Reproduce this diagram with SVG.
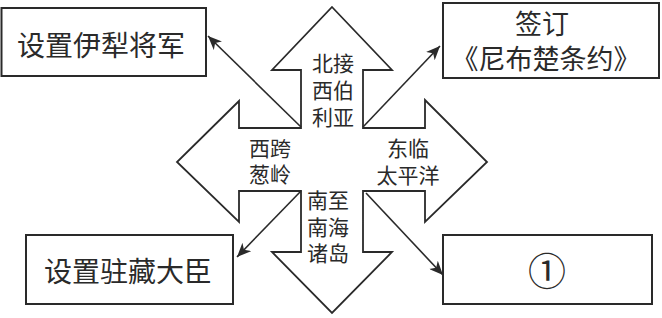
<svg xmlns="http://www.w3.org/2000/svg" width="662" height="318" viewBox="0 0 662 318">
<style>
.box{fill:#fff;stroke:#2a2a2a;stroke-width:2}
.cross{fill:#fff;stroke:#2a2a2a;stroke-width:1.8;stroke-linejoin:miter}
.t{font-family:"Liberation Sans","Noto Sans CJK SC","Noto Sans CJK JP",sans-serif;fill:#2a2a2a;text-anchor:middle}
.big{font-size:28px}
.small{font-size:21px}
.conn{stroke:#2a2a2a;stroke-width:1.6;fill:none;marker-end:url(#ah)}
</style>
<defs>
<marker id="ah" markerUnits="userSpaceOnUse" markerWidth="16" markerHeight="12" refX="14" refY="6" orient="auto">
<path d="M0,0 L14,6 L0,12 L4,6 z" fill="#2a2a2a"/>
</marker>
</defs>
<rect width="662" height="318" fill="#fff"/>
<g id="cross">
<polygon class="cross" points="332,7 392,70 363,70 363,128 425,128 425,100 487,162 425,222 425,191 363,191 363,252 392,252 332,313 272,252 301,252 301,191 239,191 239,222 177,162 239,101 239,128 301,128 301,70 272,70"/>
<text class="t small"><tspan x="333" y="71">北接</tspan><tspan x="333" y="98">西伯</tspan><tspan x="333" y="125">利亚</tspan></text>
<text class="t small"><tspan x="270" y="156">西跨</tspan><tspan x="270" y="182">葱岭</tspan></text>
<text class="t small"><tspan x="408" y="156">东临</tspan><tspan x="408" y="183">太平洋</tspan></text>
<text class="t small"><tspan x="328" y="208">南至</tspan><tspan x="328" y="235">南海</tspan><tspan x="328" y="261">诸岛</tspan></text>
</g>
<g id="connectors">
<line class="conn" x1="301" y1="127" x2="208" y2="36"/>
<line class="conn" x1="363" y1="127" x2="440" y2="46"/>
<line class="conn" x1="301" y1="191" x2="237" y2="257"/>
<line class="conn" x1="366" y1="193" x2="443" y2="275"/>
</g>
<g id="box-yili">
<rect class="box" x="1.5" y="8" width="204.5" height="68"/>
<text class="t big" x="101" y="56">设置伊犁将军</text>
</g>
<g id="box-nerchinsk">
<rect class="box" x="443" y="3" width="216" height="75"/>
<text class="t" font-size="27"><tspan x="542" y="34">签订</tspan><tspan x="546" y="69">《尼布楚条约》</tspan></text>
</g>
<g id="box-tibet">
<rect class="box" x="26" y="235" width="207" height="69"/>
<text class="t big" x="128" y="282">设置驻藏大臣</text>
</g>
<g id="box-1">
<rect class="box" x="443" y="235" width="209" height="69"/>
<text class="t" font-size="38" x="547" y="285">①</text>
</g>
</svg>
